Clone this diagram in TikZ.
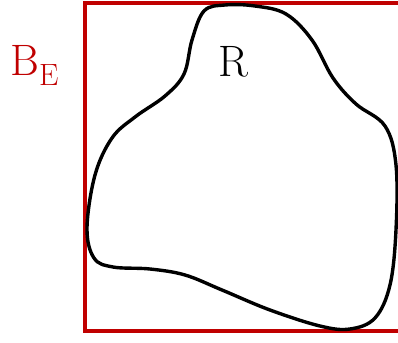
\documentclass[tikz,border=0pt]{standalone}
\usepackage{tikz}
\usetikzlibrary{positioning}
\definecolor{boxred}{RGB}{192,0,0}

\begin{document}
\begin{tikzpicture}[x=0.5pt,y=-0.5pt,font=\fontsize{22}{26}\selectfont]
  \useasboundingbox (0,0) rectangle (398,343);
  \coordinate (TR) at (398,3);
  \coordinate (TL) at (85,3);
  \coordinate (BL) at (85,331);
  \coordinate (BR) at (398,331);
  % box B_E, right side cut off
  \draw[boxred,line width=1.8pt] (TR)--(TL)--(BL)--(BR);
  % region R
  \draw[line width=1.7pt] plot[smooth cycle,tension=0.6] coordinates {
    (225,5) (255,6) (286,14) (312,40) (333,78) (356,104) (385,126)
    (396,165) (396,230) (390,285) (375,318) (350,329) (320,326)
    (270,310) (222,290) (185,275) (150,269) (113,267) (94,258)
    (87,228) (95,175) (112,138) (135,117) (165,96) (184,74) (192,40) (204,11)};
  \node[boxred,inner sep=0pt,anchor=base west] (BE) at (10,75)
    {B\raisebox{-5.5pt}{\fontsize{15.4}{18}\selectfont E}};
  \node[inner sep=0pt,anchor=base] (R) at (233,76) {R};
\end{tikzpicture}
\end{document}
